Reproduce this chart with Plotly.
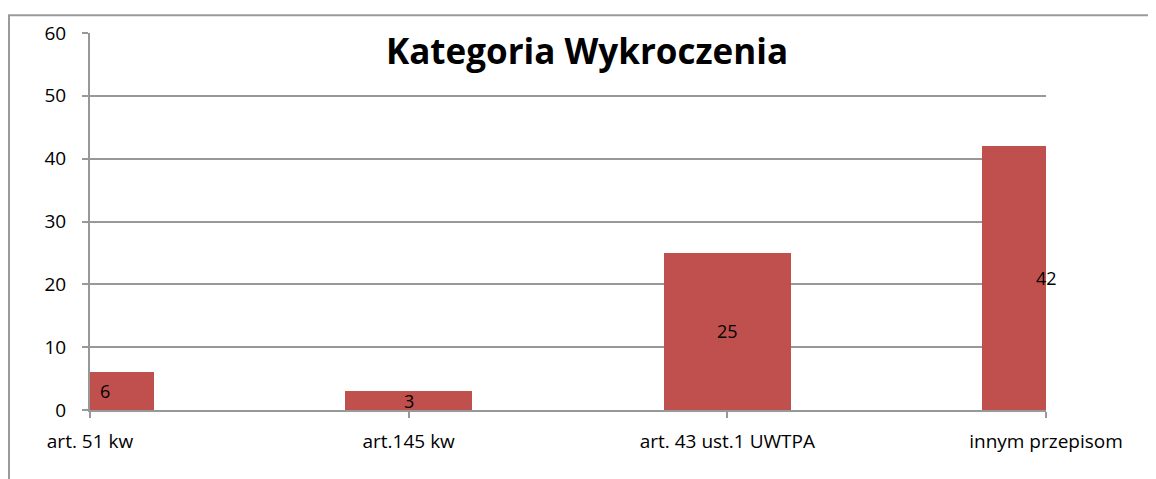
import plotly.graph_objects as go

categories = ["art. 51 kw", "art.145 kw", "art. 43 ust.1 UWTPA", "innym przepisom"]
values = [6, 3, 25, 42]
y_ticks = [0, 10, 20, 30, 40, 50, 60]

OFF = 8  # page body margin
W, H = 1156 - OFF, 479 - OFF
L, R, T, B = 90 - OFF, 1046 - OFF, 28 - OFF, 410 - OFF
pw, ph = R - L, B - T

positions = list(range(len(categories)))
grid = "#989898"
font = "'Open Sans', Calibri, sans-serif"

fig = go.Figure()
fig.add_trace(go.Bar(
    x=positions, y=values, width=0.4,
    marker=dict(color="#C0504D", line=dict(width=0)),
    hoverinfo="skip", showlegend=False,
))

label_shift = [15, 0, 0, 0]
for p, v, s in zip(positions, values, label_shift):
    fig.add_annotation(x=p, y=v / 2, text=str(v), showarrow=False, xshift=s,
                       font=dict(family=font, size=18, color="black"))

fig.add_shape(type="rect", xref="paper", yref="paper",
              x0=(9 - OFF - L) / pw, x1=(1180 - OFF - L) / pw,
              y0=-(520 - B) / ph, y1=1 + (T - (10 - OFF)) / ph,
              line=dict(color="#9a9a9a", width=2), layer="below")

fig.update_layout(
    width=W, height=H,
    margin=dict(l=L, r=W - R, t=T, b=H - B, pad=0),
    plot_bgcolor="white", paper_bgcolor="white",
    title=dict(text="<b>Kategoria Wykroczenia</b>", x=(587 - OFF) / W, xanchor="center",
               y=1 - (52 - OFF) / H, yanchor="middle",
               font=dict(family=font, size=35, color="black")),
    xaxis=dict(range=[0, 3], tickmode="array", tickvals=positions, ticktext=categories,
               showgrid=False, showline=True, linecolor=grid, linewidth=2,
               ticks="outside", ticklen=6, tickcolor=grid, tickwidth=2,
               ticklabelstandoff=7,
               tickfont=dict(family=font, size=19, color="black"), zeroline=False,
               fixedrange=True),
    yaxis=dict(range=[0, 60], tickmode="array", tickvals=y_ticks,
               showgrid=True, gridcolor=grid, gridwidth=2,
               showline=True, linecolor=grid, linewidth=2,
               ticks="outside", ticklen=6, tickcolor=grid, tickwidth=2,
               ticklabelstandoff=12,
               tickfont=dict(family=font, size=19, color="black"), zeroline=False),
    bargap=0,
)

fig.write_html("out.html")
